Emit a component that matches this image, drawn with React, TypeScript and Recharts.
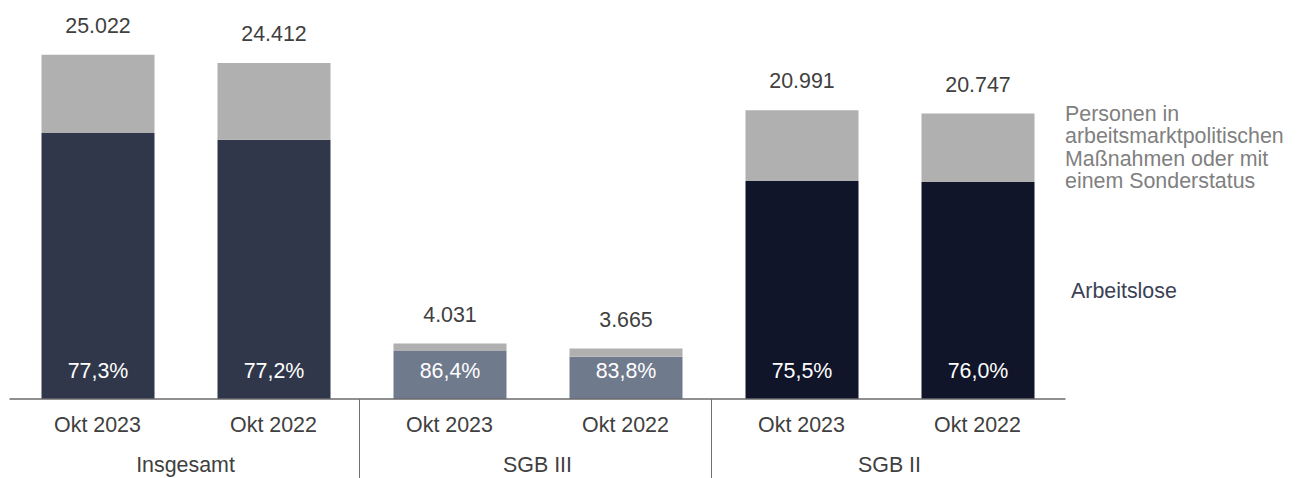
import React from 'react';
import { BarChart, Bar, XAxis, YAxis, Cell, LabelList } from 'recharts';

const periods = ['Okt 2023', 'Okt 2022', 'Okt 2023', 'Okt 2022', 'Okt 2023', 'Okt 2022'];
const groups = ['Insgesamt', 'Insgesamt', 'SGB III', 'SGB III', 'SGB II', 'SGB II'];
const totals = [25022, 24412, 4031, 3665, 20991, 20747];
const arbeitslose = [19342, 18846, 3483, 3071, 15848, 15768];
const massnahmen = [5680, 5566, 548, 594, 5143, 4979];
const shares = ['77,3%', '77,2%', '86,4%', '83,8%', '75,5%', '76,0%'];

const darkColors = ['#30374b', '#30374b', '#707a8d', '#707a8d', '#10152a', '#10152a'];
const FONT = '"Liberation Sans", Arial, sans-serif';
const FS = 21.4;

const W = 1297;
const H = 478;
const LEFT = 9.5;
const RIGHT = 1065.5;
const HALF_BAND = (RIGHT - LEFT) / periods.length / 2;

const data = periods.map((p, i) => ({
  period: p,
  group: groups[i],
  arbeitslose: arbeitslose[i],
  massnahmen: massnahmen[i],
  total: totals[i].toLocaleString('de-DE'),
  share: shares[i],
}));

const AxisTick = (props: any) => {
  const { x, y, payload, index } = props;
  const odd = index % 2 === 1;
  return (
    <g>
      <text x={x} y={y + 33} textAnchor="middle" fontSize={FS} fontFamily={FONT} fill="#404040">
        {payload.value}
      </text>
      {odd && (
        <text x={x - HALF_BAND} y={y + 73} textAnchor="middle" fontSize={FS} fontFamily={FONT} fill="#404040">
          {groups[index]}
        </text>
      )}
      {odd && index < periods.length - 1 && (
        <line x1={x + HALF_BAND - 2} x2={x + HALF_BAND - 2} y1={y} y2={H} stroke="#707070" strokeWidth={1} />
      )}
    </g>
  );
};

const TotalLabel = (props: any) => {
  const { x, y, width, value } = props;
  return (
    <text x={x + width / 2} y={y - 22} textAnchor="middle" fontSize={FS} fontFamily={FONT} fill="#404040">
      {value}
    </text>
  );
};

const ShareLabel = (props: any) => {
  const { x, y, width, height, value } = props;
  return (
    <text x={x + width / 2} y={y + height - 21} textAnchor="middle" fontSize={FS} fontFamily={FONT} fill="#ffffff">
      {value}
    </text>
  );
};

export default function App() {
  return (
    <div style={{ position: 'absolute', left: 0, top: 0, width: W, height: H, background: '#fff' }}>
      <BarChart
        width={W}
        height={H}
        data={data}
        margin={{ top: 0, right: W - RIGHT, left: LEFT, bottom: 0 }}
        barSize={113}
      >
        <XAxis
          dataKey="period"
          height={79}
          interval={0}
          tickLine={false}
          tickSize={0}
          tickMargin={0}
          axisLine={{ stroke: '#6a6a6a', strokeWidth: 1.5 }}
          tick={<AxisTick />}
        />
        <YAxis hide domain={[0, 29000]} />
        <Bar dataKey="arbeitslose" stackId="a" isAnimationActive={false}>
          {data.map((d, i) => (
            <Cell key={`c-${i}`} fill={darkColors[i]} />
          ))}
          <LabelList dataKey="share" content={<ShareLabel />} />
        </Bar>
        <Bar dataKey="massnahmen" stackId="a" fill="#b0b0b0" isAnimationActive={false}>
          <LabelList dataKey="total" content={<TotalLabel />} />
        </Bar>
      </BarChart>
      <div
        style={{
          position: 'absolute',
          left: 1065,
          top: 102.5,
          fontFamily: FONT,
          fontSize: FS,
          lineHeight: '22.6px',
          color: '#808080',
          whiteSpace: 'nowrap',
        }}
      >
        Personen in
        <br />
        arbeitsmarktpolitischen
        <br />
        Maßnahmen oder mit
        <br />
        einem Sonderstatus
      </div>
      <div
        style={{
          position: 'absolute',
          left: 1071,
          top: 279.5,
          fontFamily: FONT,
          fontSize: FS,
          lineHeight: '22.6px',
          color: '#3a4155',
          whiteSpace: 'nowrap',
        }}
      >
        Arbeitslose
      </div>
    </div>
  );
}
